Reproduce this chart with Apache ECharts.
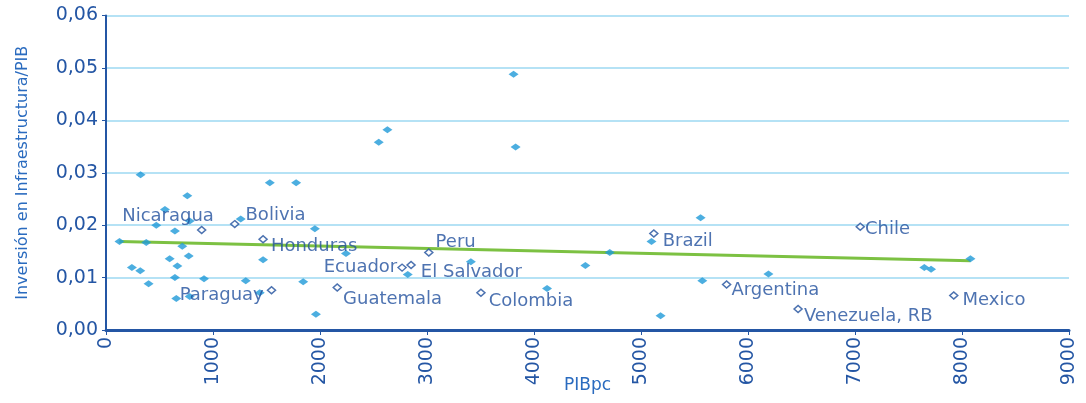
<!DOCTYPE html>
<html><head><meta charset="utf-8">
<script src="https://cdn.jsdelivr.net/npm/echarts@6/dist/echarts.min.js"></script>
<style>html,body{margin:0;padding:0;background:#fff}#c{width:1086px;height:403px}</style>
</head><body><div id="c"></div>
<script>
// Filled points (other countries)
const otherX = [323,1531,1777,760,551,782,470,644,1259,1952,126,376,713,2243,595,773,1468,242,320,667,644,916,1306,1843,398,657,782,1437,1962,2630,2549,3828,2820,3410,3809,4122,4480,4708,5098,5183,5557,5573,6191,8079,7648,7711];
const otherY = [0.0296,0.0281,0.0281,0.0256,0.0230,0.0208,0.0200,0.0189,0.0212,0.0193,0.0169,0.0167,0.0160,0.0146,0.0136,0.0141,0.0134,0.0119,0.0113,0.0122,0.0100,0.0098,0.0094,0.0092,0.0088,0.0060,0.0064,0.0071,0.0030,0.0382,0.0358,0.0349,0.0106,0.0130,0.0488,0.0079,0.0123,0.0148,0.0169,0.0027,0.0214,0.0094,0.0107,0.0136,0.0119,0.0116];
// Latin American countries (hollow, labelled)
const latamNames = ["Nicaragua","Bolivia","Honduras","Paraguay","Guatemala","Ecuador","El Salvador","Peru","Colombia","Brazil","Argentina","Venezuela, RB","Chile","Mexico"];
const latamX = [894,1203,1468,1547,2161,2767,2851,3017,3504,5120,5800,6468,7049,7923];
const latamY = [0.0191,0.0202,0.0173,0.0076,0.0081,0.0119,0.0124,0.0148,0.0071,0.0184,0.0087,0.0040,0.0197,0.0066];
// Trend line endpoints
const trendX = [126,8079];
const trendY = [0.0169,0.0132];
const xTicks = [0,1000,2000,3000,4000,5000,6000,7000,8000,9000];
const yTicks = ["0,00","0,01","0,02","0,03","0,04","0,05","0,06"];

// label placement (style only)
const labelPlace = {
  "Nicaragua":["left",17,-14],"Bolivia":["right",6,-9],"Honduras":["right",3,7],
  "Paraguay":["left",-3,5],"Guatemala":["right",1,12],"Ecuador":["left",0,0],
  "El Salvador":["right",5,7],"Peru":["right",2,-10],"Colombia":["right",3,9],
  "Brazil":["right",4,8],"Argentina":["right",0,6],"Venezuela, RB":["right",1,7],
  "Chile":["right",0,3],"Mexico":["right",4,5]
};
const FONT = "DejaVu Sans";
const DARK = "#2456a4";

const chart = echarts.init(document.getElementById('c'));
chart.setOption({
  animation:false,
  grid:{left:106,right:17,top:15.5,bottom:73,containLabel:false,outerBoundsMode:'none'},
  xAxis:{type:'value',min:0,max:9000,interval:1000,
    name:'PIBpc',nameLocation:'middle',nameGap:47,nameMoveOverlap:false,
    nameTextStyle:{color:'#2a6bbf',fontFamily:FONT,fontSize:17},
    axisLine:{show:true,lineStyle:{color:DARK,width:3}},
    axisTick:{show:true,length:5,lineStyle:{color:DARK,width:1}},
    axisLabel:{rotate:90,margin:7,color:DARK,fontFamily:FONT,fontSize:19,
      formatter:v=>String(xTicks[Math.round(v/1000)])},
    splitLine:{show:false}},
  yAxis:{type:'value',min:0,max:0.06,interval:0.01,
    name:'Inversión en Infraestructura/PIB',nameLocation:'middle',nameGap:75,nameRotate:90,nameMoveOverlap:false,
    nameTextStyle:{color:'#2a6bbf',fontFamily:FONT,fontSize:16},
    axisLine:{show:true,lineStyle:{color:DARK,width:2}},
    axisTick:{show:true,length:4,lineStyle:{color:DARK,width:1}},
    axisLabel:{margin:8,color:DARK,fontFamily:FONT,fontSize:19,
      formatter:v=>yTicks[Math.round(v*100)]},
    splitLine:{show:true,lineStyle:{color:'#b5e2f5',width:2}}},
  series:[
    {type:'line',data:trendX.map((x,i)=>[x,trendY[i]]),showSymbol:false,symbol:'none',
      lineStyle:{color:'#7cc142',width:3},z:1},
    {type:'scatter',data:otherX.map((x,i)=>[x,otherY[i]]),symbol:'diamond',symbolSize:[10,7],
      itemStyle:{color:'#1f9ad8'},z:2},
    {type:'scatter',symbol:'diamond',symbolSize:[8,7],
      itemStyle:{color:'#ffffff',borderColor:'#1f4f9c',borderWidth:1.5},z:3,
      data:latamX.map((x,i)=>{
        const p=labelPlace[latamNames[i]];
        return {value:[x,latamY[i]],name:latamNames[i],
          label:{show:true,position:p[0],distance:0,offset:[p[1],p[2]],formatter:latamNames[i],
            color:'#22509e',fontFamily:FONT,fontSize:18}};
      })}
  ]
});
</script></body></html>
